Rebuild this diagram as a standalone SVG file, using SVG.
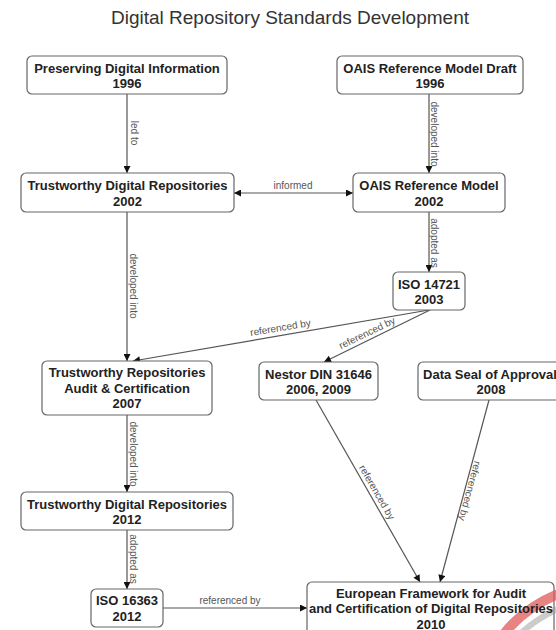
<svg xmlns="http://www.w3.org/2000/svg" width="556" height="630" viewBox="0 0 556 630">
<style>
.box{fill:#fff;stroke:#666;stroke-width:1.2}
.nt{font-family:"Liberation Sans",Arial,sans-serif;font-size:13px;font-weight:bold;fill:#222;text-anchor:middle}
.el{font-family:"Liberation Sans",Arial,sans-serif;font-size:10px;fill:#555;text-anchor:middle}
.cn{stroke:#555;stroke-width:1.2;fill:none}
.title{font-family:"Liberation Sans",Arial,sans-serif;font-size:19px;fill:#333;text-anchor:middle}
</style>
<defs>
<marker id="ah" viewBox="0 0 10 10" refX="10" refY="5" markerUnits="userSpaceOnUse" markerWidth="9" markerHeight="7" orient="auto-start-reverse">
<path d="M0,0 L10,5 L0,10 z" fill="#111"/>
</marker>
</defs>
<rect width="556" height="630" fill="#fff"/>
<text class="title" x="290" y="24">Digital Repository Standards Development</text>

<g id="connectors">
<line class="cn" x1="127" y1="94" x2="127" y2="173" marker-end="url(#ah)"/>
<line class="cn" x1="429" y1="94" x2="429" y2="173" marker-end="url(#ah)"/>
<line class="cn" x1="234" y1="193" x2="353" y2="193" marker-start="url(#ah)" marker-end="url(#ah)"/>
<line class="cn" x1="429" y1="212" x2="429" y2="272" marker-end="url(#ah)"/>
<line class="cn" x1="127" y1="212" x2="127" y2="361" marker-end="url(#ah)"/>
<line class="cn" x1="429" y1="310" x2="133" y2="361" marker-end="url(#ah)"/>
<line class="cn" x1="430" y1="310" x2="324" y2="362" marker-end="url(#ah)"/>
<line class="cn" x1="127" y1="415" x2="127" y2="492" marker-end="url(#ah)"/>
<line class="cn" x1="127" y1="530" x2="127" y2="589" marker-end="url(#ah)"/>
<line class="cn" x1="316" y1="400" x2="420" y2="582" marker-end="url(#ah)"/>
<line class="cn" x1="489" y1="400" x2="440" y2="582" marker-end="url(#ah)"/>
<line class="cn" x1="163" y1="608" x2="307" y2="608" marker-end="url(#ah)"/>
<text class="el" transform="translate(131,133) rotate(90)">led to</text>
<text class="el" transform="translate(431,134) rotate(90)">developed into</text>
<text class="el" x="293" y="189">informed</text>
<text class="el" transform="translate(431,243) rotate(90)">adopted as</text>
<text class="el" transform="translate(130,286) rotate(90)">developed into</text>
<text class="el" transform="translate(281,331) rotate(-9.6)">referenced by</text>
<text class="el" transform="translate(368.5,336) rotate(-25.7)">referenced by</text>
<text class="el" transform="translate(130,454) rotate(90)">developed into</text>
<text class="el" transform="translate(130,559) rotate(90)">adopted as</text>
<text class="el" transform="translate(374,494) rotate(60)">referenced by</text>
<text class="el" transform="translate(466.5,490) rotate(105.2)">referenced by</text>
<text class="el" x="230" y="604">referenced by</text>
</g>

<g id="n-pdi">
<rect class="box" x="27" y="56" width="200" height="38" rx="5"/>
<text class="nt" x="127" y="72.5">Preserving Digital Information</text>
<text class="nt" x="127" y="88">1996</text>
</g>
<g id="n-oaisdraft">
<rect class="box" x="337" y="56" width="186" height="38" rx="5"/>
<text class="nt" x="430" y="72.5">OAIS Reference Model Draft</text>
<text class="nt" x="430" y="88">1996</text>
</g>
<g id="n-tdr2002">
<rect class="box" x="21" y="173" width="213" height="39" rx="5"/>
<text class="nt" x="127.5" y="190">Trustworthy Digital Repositories</text>
<text class="nt" x="127.5" y="205.5">2002</text>
</g>
<g id="n-oais2002">
<rect class="box" x="353" y="173" width="152" height="39" rx="5"/>
<text class="nt" x="429" y="190">OAIS Reference Model</text>
<text class="nt" x="429" y="205.5">2002</text>
</g>
<g id="n-iso14721">
<rect class="box" x="393" y="272" width="72" height="38" rx="5"/>
<text class="nt" x="429" y="288.5">ISO 14721</text>
<text class="nt" x="429" y="304">2003</text>
</g>
<g id="n-trac">
<rect class="box" x="42" y="361" width="170" height="54" rx="5"/>
<text class="nt" x="127" y="377">Trustworthy Repositories</text>
<text class="nt" x="127" y="392.5">Audit &amp; Certification</text>
<text class="nt" x="127" y="408">2007</text>
</g>
<g id="n-nestor">
<rect class="box" x="259" y="362" width="119" height="38" rx="5"/>
<text class="nt" x="318.5" y="378.5">Nestor DIN 31646</text>
<text class="nt" x="318.5" y="394">2006, 2009</text>
</g>
<g id="n-dsa">
<rect class="box" x="418" y="362" width="146" height="38" rx="5"/>
<text class="nt" x="490" y="378.5">Data Seal of Approval</text>
<text class="nt" x="491" y="394">2008</text>
</g>
<g id="n-tdr2012">
<rect class="box" x="21" y="492" width="212" height="38" rx="5"/>
<text class="nt" x="127" y="508.5">Trustworthy Digital Repositories</text>
<text class="nt" x="127" y="524">2012</text>
</g>
<g id="n-iso16363">
<rect class="box" x="91" y="589" width="72" height="38" rx="5"/>
<text class="nt" x="127" y="605">ISO 16363</text>
<text class="nt" x="127" y="620.5">2012</text>
</g>
<g id="n-ef">
<rect class="box" x="307" y="582" width="247" height="56" rx="5"/>
<path d="M504 634 Q524 608 558 594" fill="none" stroke="#e05a5a" stroke-width="10" opacity="0.75"/>
<path d="M520 634 Q536 619 558 609" fill="none" stroke="#9a9a9a" stroke-width="6" opacity="0.5"/>
<text class="nt" x="431" y="597.5">European Framework for Audit</text>
<text class="nt" x="431" y="613">and Certification of Digital Repositories</text>
<text class="nt" x="431" y="628.5">2010</text>
</g>
</svg>
